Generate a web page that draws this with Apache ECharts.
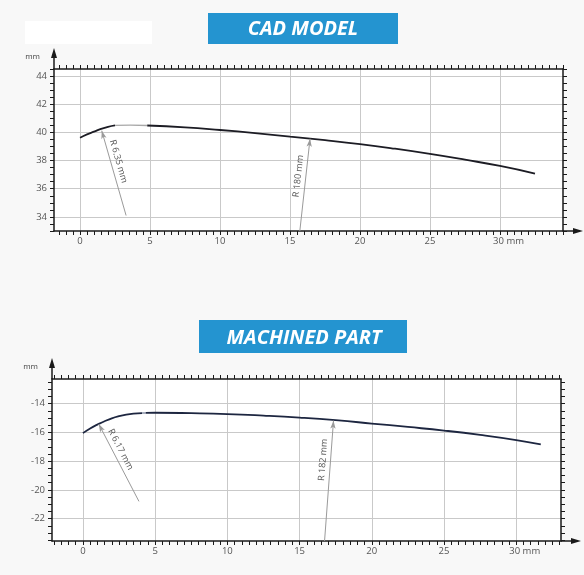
<!DOCTYPE html>
<html><head><meta charset="utf-8">
<script src="https://cdn.jsdelivr.net/npm/echarts@6/dist/echarts.min.js"></script>
<style>html,body{margin:0;padding:0;background:#f8f8f8}#c{width:584px;height:575px}</style>
</head><body><div id="c"></div>
<script>
// ---------- data ----------
const cadTitle = 'CAD MODEL';
const partTitle = 'MACHINED PART';
const xTickLabels = [0, 5, 10, 15, 20, 25, 30];
const cadYTickLabels = [34, 36, 38, 40, 42, 44];
const partYTickLabels = [-22, -20, -18, -16, -14];
const cadXRange = [-1.86, 34.5];
const cadYRange = [33.0, 44.5];
const partXRange = [-2.14, 33.1];
const partYRange = [-23.56, -12.28];

const cadFilletX = [0, 0.5, 1, 1.5, 2, 2.5];
const cadFilletY = [39.62, 39.86, 40.05, 40.25, 40.4, 40.5];
const cadGapX = [2.5, 3.6, 4.8];
const cadGapY = [40.5, 40.52, 40.49];
const cadMainX = [4.8, 7.5, 10, 12.5, 15, 17.5, 20, 22.5, 25, 27.5, 30, 32.5];
const cadMainY = [40.49, 40.36, 40.17, 39.95, 39.7, 39.45, 39.17, 38.84, 38.47, 38.06, 37.62, 37.08];

const partFilletX = [0, 0.5, 1, 1.5, 2, 2.5, 3, 3.5, 4.1];
const partFilletY = [-16.05, -15.72, -15.46, -15.22, -15.02, -14.87, -14.76, -14.69, -14.65];
const partGapX = [4.1, 4.35];
const partGapY = [-14.65, -14.645];
const partMainX = [4.35, 5, 7.5, 10, 12.5, 15, 17.5, 20, 22.5, 25, 27.5, 30, 31.7];
const partMainY = [-14.645, -14.63, -14.66, -14.72, -14.83, -14.97, -15.15, -15.38, -15.62, -15.87, -16.17, -16.53, -16.84];

const cadNoteText = ['R 6.35 mm', 'R 180 mm'];
const cadNoteFrom = [[3.29, 34.1], [15.7, 33.0]];
const cadNoteTo = [[1.55, 40.12], [16.43, 39.55]];
const partNoteText = ['R 6.17 mm', 'R 182 mm'];
const partNoteFrom = [[3.88, -20.8], [16.73, -23.56]];
const partNoteTo = [[1.1, -15.42], [17.35, -15.18]];

// ---------- styles ----------
const FONT = '"Open Sans", "DejaVu Sans", sans-serif';
const LABEL_COLOR = '#555';
const AXIS_COLOR = '#1a1a1a';
const GRID_COLOR = '#c9c9c9';
const TITLE_BLUE = '#2494d0';
const cadNotePad = [[0, 20, 0, 0], [0, 0, 0, 16]];
const partNotePad = [[0, 22, 0, 0], [0, 0, 0, 41]];

function pts(xs, ys) { return xs.map((x, i) => [x, ys[i]]); }
function halfSteps(r) {
  const v = [];
  for (let t = Math.ceil(r[0] * 2) / 2; t <= r[1] + 1e-9; t += 0.5) v.push(+t.toFixed(2));
  return v;
}

function makeX(gi, range, labels) {
  const base = { gridIndex: gi, type: 'value', min: range[0], max: range[1],
    axisLine: { onZero: false, lineStyle: { color: AXIS_COLOR, width: 1.5 } },
    splitLine: { show: false } };
  return [
    Object.assign({}, base, { position: 'bottom',
      axisTick: { customValues: halfSteps(range), length: 4, lineStyle: { color: AXIS_COLOR, width: 1 } },
      axisLabel: { customValues: labels, margin: 5, color: LABEL_COLOR, fontSize: 9.5, fontFamily: FONT,
        formatter: v => v === 30 ? '{u|30 mm}' : String(v),
        rich: { u: { padding: [0, 0, 0, 17], color: LABEL_COLOR, fontSize: 9.5, fontFamily: FONT } } } }),
    Object.assign({}, base, { position: 'top',
      axisTick: { customValues: halfSteps(range), length: 4, lineStyle: { color: AXIS_COLOR, width: 1 } },
      axisLabel: { show: false } }),
    Object.assign({}, base, { position: 'bottom', axisLine: { show: false, onZero: false },
      axisTick: { show: false, customValues: labels }, axisLabel: { show: false },
      splitLine: { show: true, lineStyle: { color: GRID_COLOR, width: 1 } } })
  ];
}
function makeY(gi, range, labels) {
  const base = { gridIndex: gi, type: 'value', min: range[0], max: range[1],
    axisLine: { onZero: false, lineStyle: { color: AXIS_COLOR, width: 1.5 } },
    splitLine: { show: false } };
  return [
    Object.assign({}, base, { position: 'left', name: 'mm', nameGap: 8,
      nameTextStyle: { align: 'right', padding: [0, 14, 0, 0], color: '#444', fontSize: 8, fontFamily: FONT },
      axisTick: { customValues: halfSteps(range), length: 4, lineStyle: { color: AXIS_COLOR, width: 1 } },
      axisLabel: { customValues: labels, margin: 7, color: LABEL_COLOR, fontSize: 9.5, fontFamily: FONT } }),
    Object.assign({}, base, { position: 'right',
      axisTick: { customValues: halfSteps(range), length: 4, lineStyle: { color: AXIS_COLOR, width: 1 } },
      axisLabel: { show: false } }),
    Object.assign({}, base, { position: 'left', axisLine: { show: false, onZero: false },
      axisTick: { show: false, customValues: labels }, axisLabel: { show: false },
      splitLine: { show: true, lineStyle: { color: GRID_COLOR, width: 1 } } })
  ];
}

function notes(texts, from, to, pads) {
  return {
    silent: true, animation: false,
    symbol: ['none', 'arrow'], symbolSize: [4, 8],
    lineStyle: { color: '#9a9a9a', width: 1, type: 'solid' },
    label: { show: true, position: 'insideMiddleTop', distance: 3, color: LABEL_COLOR, fontSize: 9, fontFamily: FONT, formatter: '{b}' },
    data: texts.map((t, i) => [
      { name: t, coord: from[i], label: { padding: pads[i] } },
      { coord: to[i] }
    ])
  };
}

function lineSeries(xi, yi, data, color, width, extra) {
  return Object.assign({ type: 'line', xAxisIndex: xi, yAxisIndex: yi, data: data, smooth: true,
    showSymbol: false, symbol: 'none', silent: true, animation: false,
    lineStyle: { color: color, width: width } }, extra || {});
}

const chart = echarts.init(document.getElementById('c'), null, { renderer: 'canvas' });
chart.setOption({
  backgroundColor: '#f8f8f8',
  animation: false,
  grid: [
    { left: 54, top: 69, width: 509, height: 162, show: true, backgroundColor: '#ffffff', borderWidth: 0 },
    { left: 52, top: 379, width: 509, height: 162, show: true, backgroundColor: '#ffffff', borderWidth: 0 }
  ],
  xAxis: makeX(0, cadXRange, xTickLabels).concat(makeX(1, partXRange, xTickLabels)),
  yAxis: makeY(0, cadYRange, cadYTickLabels).concat(makeY(1, partYRange, partYTickLabels)),
  series: [
    lineSeries(0, 0, pts(cadFilletX, cadFilletY), '#1c1c24', 1.8, { markLine: notes(cadNoteText, cadNoteFrom, cadNoteTo, cadNotePad) }),
    lineSeries(0, 0, pts(cadGapX, cadGapY), '#a8a8a8', 1.3),
    lineSeries(0, 0, pts(cadMainX, cadMainY), '#1c1c24', 1.8),
    lineSeries(3, 3, pts(partFilletX, partFilletY), '#1d2640', 1.8, { markLine: notes(partNoteText, partNoteFrom, partNoteTo, partNotePad) }),
    lineSeries(3, 3, pts(partGapX, partGapY), '#8a93a8', 1.4),
    lineSeries(3, 3, pts(partMainX, partMainY), '#1d2640', 1.8)
  ]
});

// axis arrows extending past the frame, placed from the axes' own scales
function arrowGraphics(gi, xr, yr) {
  const tl = chart.convertToPixel({ gridIndex: gi }, [xr[0], yr[1]]);
  const br = chart.convertToPixel({ gridIndex: gi }, [xr[1], yr[0]]);
  const st = { stroke: AXIS_COLOR, lineWidth: 1.5, fill: null };
  return [
    { type: 'line', silent: true, shape: { x1: tl[0], y1: tl[1], x2: tl[0], y2: tl[1] - 12 }, style: st },
    { type: 'polygon', silent: true, shape: { points: [[tl[0], tl[1] - 21], [tl[0] - 3, tl[1] - 11], [tl[0] + 3, tl[1] - 11]] }, style: { fill: AXIS_COLOR, stroke: null } },
    { type: 'line', silent: true, shape: { x1: br[0], y1: br[1], x2: br[0] + 12, y2: br[1] }, style: st },
    { type: 'polygon', silent: true, shape: { points: [[br[0] + 20, br[1]], [br[0] + 10, br[1] - 3], [br[0] + 10, br[1] + 3]] }, style: { fill: AXIS_COLOR, stroke: null } }
  ];
}
const titleFont = 'italic bold 20px "Open Sans"';
chart.setOption({
  graphic: [
    { type: 'rect', silent: true, shape: { x: 25, y: 21, width: 127, height: 23 }, style: { fill: '#ffffff', stroke: null } },
    { type: 'rect', silent: true, shape: { x: 208, y: 13, width: 190, height: 31 }, style: { fill: TITLE_BLUE, stroke: null } },
    { type: 'text', silent: true, x: 303, y: 29,
      style: { text: cadTitle, fill: '#ffffff', font: titleFont, align: 'center', verticalAlign: 'middle' } },
    { type: 'rect', silent: true, shape: { x: 199, y: 320, width: 208, height: 33 }, style: { fill: TITLE_BLUE, stroke: null } },
    { type: 'text', silent: true, x: 304, y: 338,
      style: { text: partTitle, fill: '#ffffff', font: titleFont, align: 'center', verticalAlign: 'middle' } }
  ].concat(arrowGraphics(0, cadXRange, cadYRange), arrowGraphics(1, partXRange, partYRange))
});
</script>
</body></html>
